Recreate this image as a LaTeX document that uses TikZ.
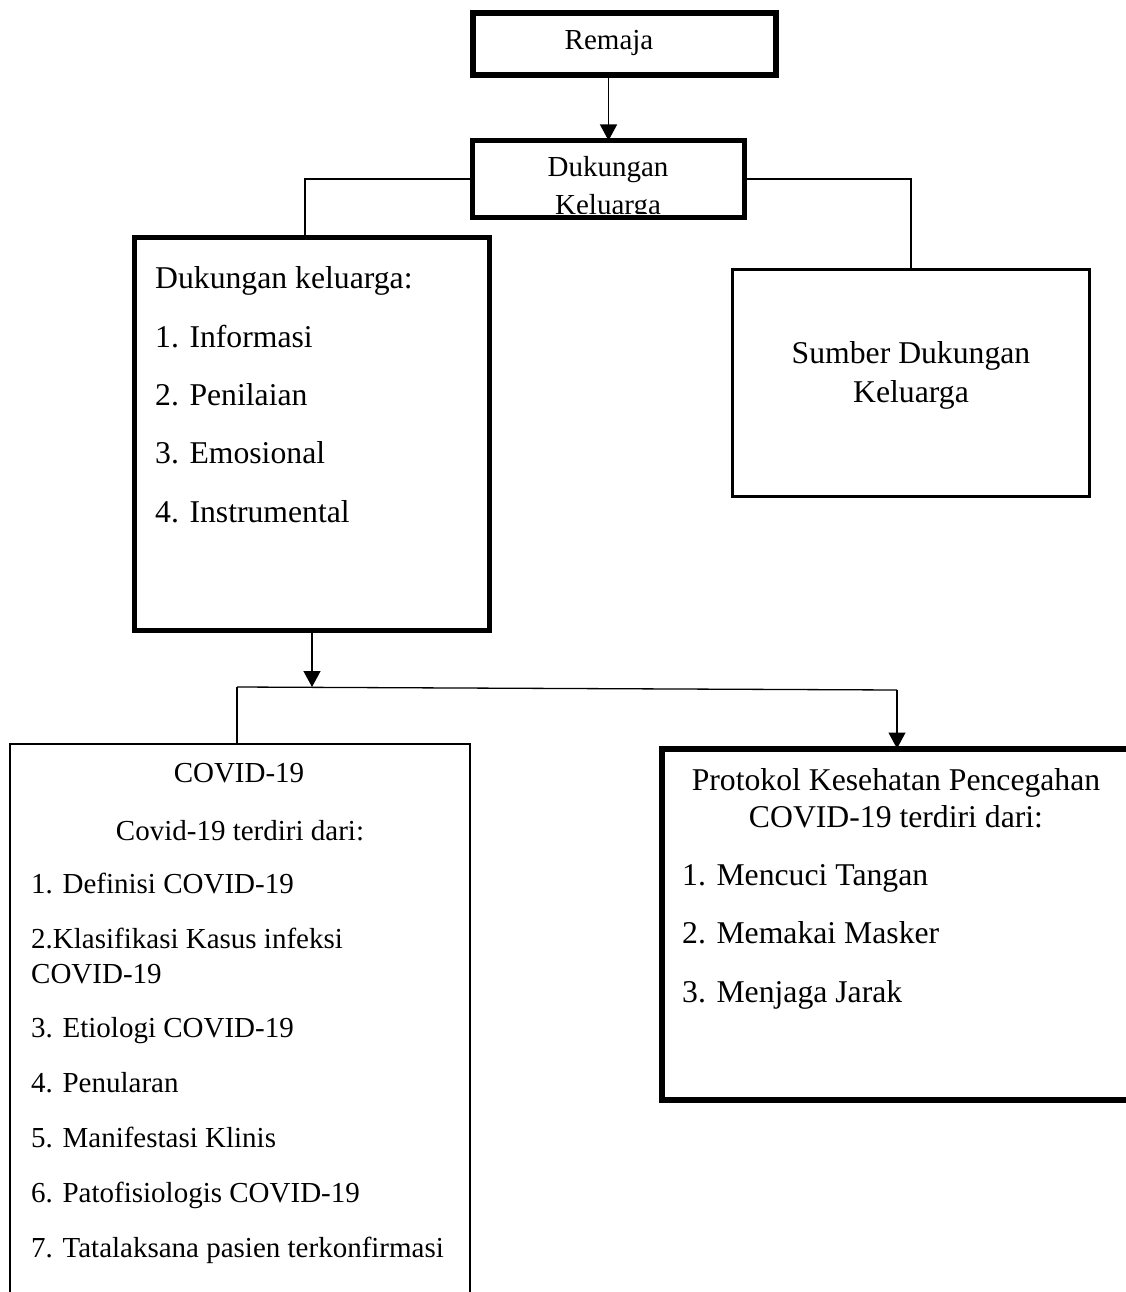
\documentclass[tikz,border=0pt]{standalone}
\usepackage{fontspec}
\setmainfont{Liberation Serif}
\usetikzlibrary{arrows.meta}
\begin{document}
\begin{tikzpicture}[x=1pt,y=-1pt,
  box/.style={draw,rectangle,inner sep=0pt,anchor=center},
  conn/.style={line width=1.3pt},
  arr/.style={conn,-{Triangle[length=16pt,width=17pt]}},
  big/.style={inner sep=0pt,font=\fontsize{31.7}{38}\selectfont},
  mid/.style={inner sep=0pt,font=\fontsize{29}{35}\selectfont}]
\clip (0,0) rectangle (1126,1292);
\fill[white] (0,0) rectangle (1126,1292);

% boxes
\node[box,line width=6pt,minimum width=302.5pt,minimum height=62pt] (remaja) at (624.25,44) {};
\node[box,line width=5pt,minimum width=272pt,minimum height=77pt] (dk) at (608.5,179) {};
\node[box,line width=5.5pt,minimum width=355pt,minimum height=393pt] (left) at (312,434) {};
\node[box,line width=3pt,minimum width=357pt,minimum height=227pt] (right) at (911,383) {};
\node[box,line width=2.5pt,minimum width=460pt,minimum height=656pt] (covid) at (240,1072) {};
\node[box,line width=6pt,minimum width=538.5pt,minimum height=351pt] (prot) at (930.75,924) {};

% texts
\node[mid,anchor=base] (tRemaja) at (609,50) {Remaja};
\begin{scope}
  \clip ([shift={(3,3)}]dk.north west) rectangle ([shift={(-3,-7)}]dk.south east);
  \node[mid,anchor=base] (tDk1) at (608,177) {Dukungan};
  \node[mid,anchor=base] (tDk2) at (608,214) {Keluarga};
\end{scope}

\node[big,anchor=base west] (l0) at (155,288) {Dukungan keluarga:};
\node[big,anchor=base west] (l1) at (155,347) {1. Informasi};
\node[big,anchor=base west] (l2) at (155,405) {2. Penilaian};
\node[big,anchor=base west] (l3) at (155,463) {3. Emosional};
\node[big,anchor=base west] (l4) at (155,522) {4. Instrumental};

\node[big,anchor=base] (r1) at (911,363) {Sumber Dukungan};
\node[big,anchor=base] (r2) at (911,402) {Keluarga};

\node[mid,anchor=base] (c0) at (239,782) {COVID-19};
\node[mid,anchor=base] (c1) at (240,840) {Covid-19 terdiri dari:};
\node[mid,anchor=base west] (c2) at (31,893) {1. Definisi COVID-19};
\node[mid,anchor=base west] (c3) at (31,948) {2.Klasifikasi Kasus infeksi};
\node[mid,anchor=base west] (c3b) at (31,983) {COVID-19};
\node[mid,anchor=base west] (c4) at (31,1037) {3. Etiologi COVID-19};
\node[mid,anchor=base west] (c5) at (31,1092) {4. Penularan};
\node[mid,anchor=base west] (c6) at (31,1147) {5. Manifestasi Klinis};
\node[mid,anchor=base west] (c7) at (31,1202) {6. Patofisiologis COVID-19};
\node[mid,anchor=base west] (c8) at (31,1257) {7. Tatalaksana pasien terkonfirmasi};

\node[big,anchor=base] (p0) at (896,790) {Protokol Kesehatan Pencegahan};
\node[big,anchor=base] (p1) at (896,827) {COVID-19 terdiri dari:};
\node[big,anchor=base west] (p2) at (682,885) {1. Mencuci Tangan};
\node[big,anchor=base west] (p3) at (682,943) {2. Memakai Masker};
\node[big,anchor=base west] (p4) at (682,1002) {3. Menjaga Jarak};

% junction coordinates
\coordinate (jL) at (237,687);
\coordinate (jR) at (897,690);

% connectors
\draw[arr] (remaja.south -| dk.north) -- ([yshift=-2.5pt]dk.north);
\draw[conn] (dk.west) -| ([xshift=-7pt]left.north);
\draw[conn] (dk.east) -| (right.north);
\draw[arr] (left.south) -- (left.south |- jL);
\draw[conn] (jL) -- (jR);
\draw[conn] (jL) -- (jL |- covid.north);
\draw[arr] (jR) -- ([yshift=-3pt]jR |- prot.north);
\end{tikzpicture}
\end{document}
